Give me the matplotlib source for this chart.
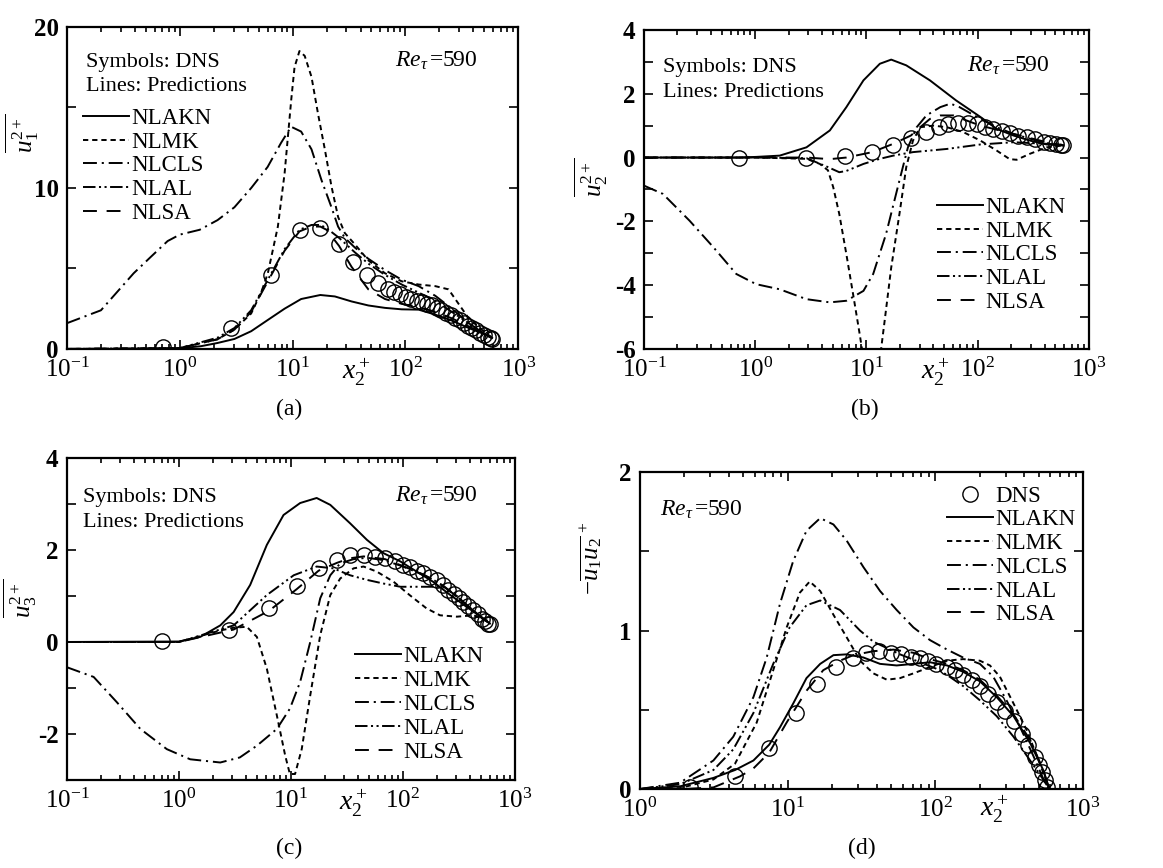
import matplotlib
matplotlib.use('Agg')
import matplotlib.pyplot as plt
from matplotlib.ticker import LogLocator, MultipleLocator, NullFormatter
import numpy as np

plt.rcParams['font.family'] = ['Liberation Serif', 'DejaVu Serif']
plt.rcParams['mathtext.fontset'] = 'custom'
plt.rcParams['mathtext.rm'] = 'Liberation Serif'
plt.rcParams['mathtext.it'] = 'Liberation Serif:italic'
plt.rcParams['mathtext.bf'] = 'Liberation Serif:bold'
plt.rcParams['lines.scale_dashes'] = False
plt.rcParams['axes.unicode_minus'] = False

models = ['NLAKN', 'NLMK', 'NLCLS', 'NLAL', 'NLSA']

# ---------------- panel (a): u1^2+ ----------------
a_dns_x = [0.71, 2.85, 6.37, 11.7, 17.6, 25.8, 34.4, 45.9, 56.8, 70.6, 80, 90, 101, 113, 126, 140, 155,
           171, 189, 208, 229, 252, 276, 302, 330, 360, 392, 425, 460, 497, 535, 570, 590]
a_dns_y = [0.1, 1.3, 4.6, 7.4, 7.5, 6.5, 5.4, 4.6, 4.1, 3.7, 3.55, 3.4, 3.25, 3.1, 3.0, 2.9, 2.8,
           2.7, 2.55, 2.4, 2.25, 2.1, 1.95, 1.8, 1.6, 1.45, 1.3, 1.15, 1.0, 0.85, 0.75, 0.65, 0.6]
a_nlakn_x = [0.1, 0.5, 1.0, 1.54, 2.16, 3.05, 4.29, 6.03, 8.49, 11.9, 17.6, 23.7, 33.3, 46.9, 65.9,
             92.7, 131, 184, 258, 364, 512, 587]
a_nlakn_y = [0.0, 0.01, 0.04, 0.17, 0.37, 0.62, 1.1, 1.8, 2.5, 3.1, 3.35, 3.26, 2.95, 2.7, 2.55,
             2.46, 2.44, 2.13, 1.76, 1.3, 0.89, 0.68]
a_nlmk_x = [0.1, 1.0, 2.16, 3.05, 4.29, 5.26, 6.03, 7.4, 8.49, 9.73, 10.4, 11.5, 12.8, 14.7, 16.8,
            19.3, 22.1, 25.3, 29.0, 35.6, 46.9, 65.9, 92.7, 131, 184, 241, 296, 364, 512, 587]
a_nlmk_y = [0.0, 0.05, 0.6, 1.2, 2.2, 3.5, 4.7, 7.6, 10.9, 15.5, 17.5, 18.5, 18.2, 16.9, 14.6,
            12.4, 10.1, 8.2, 7.2, 6.5, 5.5, 4.7, 4.2, 4.0, 3.9, 3.7, 2.8, 1.9, 1.0, 0.7]
a_nlcls_x = [0.1, 0.2, 0.39, 0.55, 0.78, 1.0, 1.5, 2.16, 3.05, 4.3, 6.0, 7.9, 9.7, 11.9, 14.7, 18.0,
             22.1, 25.3, 29.0, 35.6, 46.9, 65.9, 92.7, 131, 184, 258, 364, 512, 587]
a_nlcls_y = [1.6, 2.4, 4.7, 5.7, 6.7, 7.1, 7.4, 8.0, 8.8, 10.0, 11.3, 12.8, 13.8, 13.5, 12.4, 10.5,
             8.8, 7.6, 6.9, 6.3, 5.6, 4.9, 4.3, 3.9, 3.3, 2.5, 1.6, 0.9, 0.7]
a_nlal_x = [0.1, 1.0, 2.16, 3.05, 4.29, 6.37, 8.49, 11.5, 14.7, 17.6, 20.0, 25.8, 35.6, 46.9, 65.9,
            92.7, 131, 184, 258, 364, 512, 587]
a_nlal_y = [0.0, 0.05, 0.7, 1.3, 2.4, 4.6, 6.2, 7.4, 7.7, 7.7, 7.5, 6.9, 6.0, 5.3, 4.6,
            4.0, 3.5, 3.0, 2.3, 1.6, 0.9, 0.7]
a_nlsa_x = [0.1, 1.0, 2.16, 3.05, 4.29, 6.37, 8.49, 11.5, 14.7, 17.6, 20.0, 25.8, 33.3, 46.9, 65.9,
            92.7, 131, 184, 258, 364, 512, 587]
a_nlsa_y = [0.0, 0.05, 0.6, 1.2, 2.3, 4.5, 6.1, 7.3, 7.6, 7.6, 7.4, 6.4, 5.1, 3.7, 3.1,
            2.8, 2.6, 2.3, 1.9, 1.4, 0.9, 0.65]

# ---------------- panel (b): u2^2+ ----------------
b_dns_x = [0.71, 2.89, 6.4, 11.3, 17.4, 25.1, 34.6, 44.5, 54, 67, 82, 98, 116, 138, 164, 194, 231,
           276, 329, 392, 450, 510, 560, 590]
b_dns_y = [0.0, 0.0, 0.05, 0.17, 0.38, 0.6, 0.8, 0.95, 1.04, 1.08, 1.08, 1.04, 0.97, 0.9, 0.83, 0.76,
           0.69, 0.64, 0.57, 0.5, 0.45, 0.41, 0.39, 0.38]
b_nlakn_x = [0.1, 0.71, 1.02, 1.66, 2.89, 4.69, 6.6, 9.4, 13.2, 16.7, 22.8, 37.2, 64, 106, 148, 210,
             296, 418, 590]
b_nlakn_y = [0.0, 0.0, 0.02, 0.06, 0.32, 0.85, 1.58, 2.42, 2.94, 3.07, 2.89, 2.42, 1.79, 1.27, 0.9,
             0.69, 0.53, 0.41, 0.38]
b_nlmk_x = [0.1, 1.02, 2.89, 3.81, 4.51, 5.03, 5.7, 6.6, 7.6, 8.7, 9.6, 13.0, 14.6, 16.7, 19.8, 22.8,
            26.2, 30.4, 40, 53, 74, 106, 148, 194, 224, 296, 418, 590]
b_nlmk_y = [0.0, 0.0, -0.04, -0.2, -0.4, -0.93, -1.77, -3.03, -4.3, -5.54, -6.5, -6.5, -5.1, -3.45,
            -1.77, -0.3, 0.53, 0.95, 1.0, 0.95, 0.8, 0.53, 0.22, -0.05, -0.07, 0.12, 0.32, 0.38]
b_nlcls_x = [0.1, 0.148, 0.257, 0.418, 0.676, 1.02, 1.66, 2.89, 4.69, 6.6, 9.4, 11.5, 15.0, 19.8,
             23.6, 28.3, 34.6, 46.1, 56.9, 68.7, 106, 148, 210, 296, 418, 590]
b_nlcls_y = [-0.88, -1.14, -1.98, -2.8, -3.65, -3.97, -4.13, -4.44, -4.54, -4.49, -4.18, -3.65, -2.4,
             -0.72, 0.32, 0.95, 1.32, 1.58, 1.69, 1.58, 1.21, 0.95, 0.74, 0.59, 0.45, 0.38]
b_nlal_x = [0.1, 1.02, 2.89, 4.51, 5.7, 6.6, 9.4, 13.2, 17.4, 26.2, 53, 106, 210, 418, 590]
b_nlal_y = [0.0, 0.0, -0.02, -0.3, -0.46, -0.42, -0.2, -0.04, 0.06, 0.17, 0.27, 0.41, 0.48, 0.43, 0.4]
b_nlsa_x = [0.1, 1.02, 2.89, 4.69, 6.6, 11.3, 17.4, 25.1, 30.4, 37.2, 46.1, 60.5, 79.6, 106, 210,
            418, 590]
b_nlsa_y = [0.0, 0.0, 0.0, -0.05, 0.0, 0.17, 0.43, 0.69, 0.95, 1.21, 1.32, 1.32, 1.16, 1.0, 0.74,
            0.48, 0.38]

# ---------------- panel (c): u3^2+ ----------------
c_dns_x = [0.71, 2.79, 6.4, 11.3, 17.7, 25.8, 33.8, 44.6, 56.5, 69.5, 85.6, 100, 115, 133, 152, 175,
           200, 228, 255, 284, 315, 348, 385, 428, 465, 507, 545, 580, 600]
c_dns_y = [0.02, 0.27, 0.74, 1.22, 1.61, 1.78, 1.89, 1.88, 1.85, 1.82, 1.75, 1.67, 1.62, 1.55, 1.49,
           1.42, 1.34, 1.24, 1.14, 1.05, 0.96, 0.87, 0.78, 0.69, 0.6, 0.51, 0.45, 0.4, 0.38]
c_nlakn_x = [0.1, 1.0, 1.55, 2.34, 3.08, 4.33, 6.1, 8.6, 12.1, 17.0, 22.5, 33.8, 47.8, 67.2, 95.2,
             133, 186, 266, 373, 525, 600]
c_nlakn_y = [0.0, 0.01, 0.11, 0.36, 0.65, 1.24, 2.11, 2.76, 3.02, 3.13, 2.98, 2.58, 2.22, 1.93, 1.75,
             1.53, 1.31, 1.02, 0.76, 0.51, 0.4]
c_nlmk_x = [0.1, 1.0, 2.34, 3.08, 4.04, 4.97, 6.1, 7.5, 8.9, 9.8, 10.9, 12.5, 14.9, 18.3, 22.5, 27.6,
            36.3, 44.6, 58.5, 82.7, 115, 163, 215, 304, 428, 600]
c_nlmk_y = [0.0, 0.0, 0.25, 0.31, 0.33, 0.11, -0.58, -1.6, -2.47, -2.87, -2.87, -2.33, -1.16, 0.15,
            1.02, 1.38, 1.6, 1.64, 1.53, 1.31, 1.02, 0.73, 0.58, 0.55, 0.58, 0.44]
c_nlcls_x = [0.1, 0.173, 0.279, 0.452, 0.78, 1.26, 2.34, 3.5, 5.0, 7.5, 9.8, 12.1, 14.9, 18.3, 22.5,
             27.6, 36.3, 47.8, 67.2, 95.2, 133, 186, 266, 373, 525, 600]
c_nlcls_y = [-0.55, -0.76, -1.31, -1.89, -2.33, -2.55, -2.62, -2.51, -2.25, -1.89, -1.45, -0.87, 0.0,
             0.95, 1.45, 1.71, 1.8, 1.83, 1.78, 1.66, 1.52, 1.36, 1.1, 0.8, 0.5, 0.4]
c_nlal_x = [0.1, 1.0, 3.08, 6.1, 10.6, 17.0, 24.0, 33.8, 47.8, 67.2, 95.2, 133, 228, 304, 373, 525, 600]
c_nlal_y = [0.0, 0.0, 0.36, 1.02, 1.45, 1.64, 1.6, 1.45, 1.35, 1.27, 1.2, 1.2, 1.2, 1.0, 0.8, 0.5, 0.42]
c_nlsa_x = [0.1, 1.0, 3.08, 6.4, 11.3, 17.7, 25.8, 33.8, 44.6, 69.5, 100, 152, 228, 348, 507, 600]
c_nlsa_y = [0.0, 0.0, 0.27, 0.68, 1.15, 1.55, 1.72, 1.82, 1.86, 1.8, 1.65, 1.47, 1.23, 0.87, 0.52, 0.4]

# ---------------- panel (d): -u1u2+ ----------------
d_dns_x = [2.18, 4.4, 7.5, 11.3, 15.9, 21.1, 27.5, 33.9, 41.8, 49.9, 58.5, 68, 78.7, 89.5, 101, 120,
           135, 154, 176, 200, 228, 260, 295, 338, 385, 425, 470, 500, 524, 548, 568]
d_dns_y = [0.01, 0.08, 0.26, 0.48, 0.66, 0.77, 0.825, 0.86, 0.87, 0.86, 0.85, 0.835, 0.83, 0.81, 0.79,
           0.77, 0.75, 0.72, 0.69, 0.65, 0.6, 0.55, 0.49, 0.43, 0.35, 0.28, 0.2, 0.15, 0.11, 0.06, 0.01]
d_nlakn_x = [1.0, 1.87, 3.14, 4.4, 5.86, 7.5, 8.87, 10.9, 13.4, 16.6, 20.4, 25.0, 32.6, 42.2, 54.7,
             71.0, 91.9, 120, 154, 200, 260, 338, 438, 537, 590]
d_nlakn_y = [0.0, 0.017, 0.07, 0.12, 0.18, 0.28, 0.39, 0.54, 0.7, 0.79, 0.845, 0.85, 0.83, 0.79, 0.78,
             0.79, 0.8, 0.78, 0.74, 0.68, 0.58, 0.46, 0.29, 0.12, 0.0]
d_nlmk_x = [1.0, 1.87, 3.14, 4.4, 6.17, 7.98, 9.84, 12.1, 14.1, 16.6, 20.4, 25.0, 30.9, 38.0, 46.9,
            57.6, 71.0, 91.9, 120, 154, 200, 234, 273, 338, 416, 510, 590]
d_nlmk_y = [0.0, 0.006, 0.06, 0.16, 0.42, 0.75, 1.02, 1.24, 1.31, 1.25, 1.1, 0.96, 0.81, 0.73, 0.69,
            0.7, 0.73, 0.77, 0.81, 0.82, 0.81, 0.78, 0.71, 0.54, 0.37, 0.16, 0.0]
d_nlcls_x = [1.0, 1.87, 3.14, 4.28, 5.86, 7.21, 8.87, 10.9, 13.4, 16.6, 20.4, 25.0, 32.6, 42.2, 54.7,
             71.0, 91.9, 120, 154, 200, 246, 303, 375, 460, 552, 590]
d_nlcls_y = [0.0, 0.04, 0.18, 0.33, 0.58, 0.83, 1.17, 1.44, 1.63, 1.71, 1.67, 1.57, 1.4, 1.25, 1.13,
             1.02, 0.94, 0.88, 0.83, 0.79, 0.71, 0.56, 0.39, 0.21, 0.04, 0.0]
d_nlal_x = [1.0, 1.87, 3.14, 4.28, 5.86, 7.98, 10.3, 13.4, 16.6, 22.6, 30.9, 38.0, 46.9, 57.6, 78.7,
            101, 120, 154, 200, 260, 338, 438, 537, 590]
d_nlal_y = [0.0, 0.03, 0.12, 0.25, 0.48, 0.79, 1.02, 1.16, 1.19, 1.13, 1.0, 0.93, 0.89, 0.85, 0.8,
            0.76, 0.72, 0.65, 0.56, 0.46, 0.33, 0.18, 0.06, 0.0]
d_nlsa_x = [1.0, 2.0, 3.14, 4.76, 5.86, 7.5, 9.84, 13.4, 17.4, 22.6, 27.8, 38.0, 52.0, 71.0, 91.9,
            120, 154, 200, 260, 338, 438, 537, 590]
d_nlsa_y = [0.0, 0.0, 0.01, 0.08, 0.13, 0.23, 0.42, 0.62, 0.75, 0.81, 0.845, 0.87, 0.88, 0.86, 0.82,
            0.79, 0.75, 0.69, 0.59, 0.47, 0.31, 0.12, 0.0]

line_styles = {
    'NLAKN': '-',
    'NLMK': (0, (3.8, 2.8)),
    'NLCLS': (0, (10, 3.5, 1.5, 3.5)),
    'NLAL': (0, (9, 2.5, 1.5, 2.5, 1.5, 2.5)),
    'NLSA': (0, (10, 7)),
}

LW = 1.4
FS_LEG = 16.5
FS_TXT = 16
RE_TEXT = r'$Re_\tau\,$=590'


def setup_axes(ax, xdec, ylim, yticks, ymin_step, ylabel, ylab_xy):
    ax.set_xscale('log')
    ax.set_xlim(10.0 ** xdec[0], 10.0 ** xdec[-1])
    ax.set_ylim(*ylim)
    ax.set_xticks([10.0 ** d for d in xdec],
                  labels=[r'$10^{%d}$' % d for d in xdec], fontsize=18)
    ax.xaxis.set_minor_locator(LogLocator(base=10, subs=np.arange(2, 10), numticks=20))
    ax.xaxis.set_minor_formatter(NullFormatter())
    ax.set_yticks(yticks, labels=['%g' % v for v in yticks], fontsize=18, fontweight='bold')
    ax.yaxis.set_minor_locator(MultipleLocator(ymin_step))
    ax.tick_params(which='both', direction='in', top=True, right=True, width=1.2)
    ax.tick_params(axis='x', which='major', length=6.5, pad=6)
    ax.tick_params(axis='x', which='minor', length=3.5)
    ax.tick_params(axis='y', which='both', length=6.5, pad=6)
    for s in ax.spines.values():
        s.set_linewidth(1.6)
    ax.set_ylabel(ylabel, fontsize=18)
    ax.yaxis.set_label_coords(*ylab_xy)


def draw_curves(ax, curves, dns_x, dns_y):
    handles = []
    for name, (x, y) in zip(models, curves):
        h, = ax.plot(x, y, color='k', lw=LW, linestyle=line_styles[name], label=name)
        handles.append(h)
    d, = ax.plot(dns_x, dns_y, 'o', ms=11, mfc='none', mec='k', mew=1.0, label='DNS', zorder=5)
    return handles, d


def add_legend(ax, handles, anchor):
    ax.legend(handles=handles, loc='upper left', bbox_to_anchor=anchor, frameon=False,
              fontsize=FS_LEG, handlelength=2.0, handletextpad=0.1, labelspacing=0.12,
              borderpad=0, borderaxespad=0)


def add_notes(ax, x, y1, y2):
    ax.text(x, y1, 'Symbols: DNS', transform=ax.transAxes, fontsize=FS_TXT, va='baseline')
    ax.text(x, y2, 'Lines: Predictions', transform=ax.transAxes, fontsize=FS_TXT, va='baseline')


fig = plt.figure(figsize=(11.63, 8.68), dpi=100)
ax_a = fig.add_axes([0.0576, 0.598, 0.388, 0.371])
ax_b = fig.add_axes([0.5537, 0.598, 0.3826, 0.3675])
ax_c = fig.add_axes([0.0576, 0.1014, 0.385, 0.371])
ax_d = fig.add_axes([0.5503, 0.091, 0.381, 0.365])

# (a)
h, d = draw_curves(ax_a, [(a_nlakn_x, a_nlakn_y), (a_nlmk_x, a_nlmk_y), (a_nlcls_x, a_nlcls_y),
                          (a_nlal_x, a_nlal_y), (a_nlsa_x, a_nlsa_y)], a_dns_x, a_dns_y)
setup_axes(ax_a, [-1, 0, 1, 2, 3], (0, 20), [0, 10, 20], 5, r'$\overline{u_1^{2+}}$', (-0.058, 0.67))
add_legend(ax_a, h, (0.035, 0.749))
add_notes(ax_a, 0.042, 0.876, 0.80)
ax_a.text(0.727, 0.876, RE_TEXT, transform=ax_a.transAxes, fontsize=17, va='baseline')
ax_a.text(0.672, -0.096, r'$x_2^+$', transform=ax_a.transAxes, fontsize=20, ha='right', va='baseline')

# (b)
h, d = draw_curves(ax_b, [(b_nlakn_x, b_nlakn_y), (b_nlmk_x, b_nlmk_y), (b_nlcls_x, b_nlcls_y),
                          (b_nlal_x, b_nlal_y), (b_nlsa_x, b_nlsa_y)], b_dns_x, b_dns_y)
setup_axes(ax_b, [-1, 0, 1, 2, 3], (-6, 4), [-6, -4, -2, 0, 2, 4], 1, r'$\overline{u_2^{2+}}$',
           (-0.076, 0.54))
add_legend(ax_b, h, (0.658, 0.477))
add_notes(ax_b, 0.043, 0.868, 0.79)
ax_b.text(0.726, 0.868, RE_TEXT, transform=ax_b.transAxes, fontsize=17, va='baseline')
ax_b.text(0.688, -0.096, r'$x_2^+$', transform=ax_b.transAxes, fontsize=20, ha='right', va='baseline')

# (c)
h, d = draw_curves(ax_c, [(c_nlakn_x, c_nlakn_y), (c_nlmk_x, c_nlmk_y), (c_nlcls_x, c_nlcls_y),
                          (c_nlal_x, c_nlal_y), (c_nlsa_x, c_nlsa_y)], c_dns_x, c_dns_y)
setup_axes(ax_c, [-1, 0, 1, 2, 3], (-3, 4), [-2, 0, 2, 4], 1, r'$\overline{u_3^{2+}}$',
           (-0.062, 0.565))
add_legend(ax_c, h, (0.643, 0.415))
add_notes(ax_c, 0.036, 0.863, 0.786)
ax_c.text(0.732, 0.863, RE_TEXT, transform=ax_c.transAxes, fontsize=17, va='baseline')
ax_c.text(0.672, -0.096, r'$x_2^+$', transform=ax_c.transAxes, fontsize=20, ha='right', va='baseline')

# (d)
h, d = draw_curves(ax_d, [(d_nlakn_x, d_nlakn_y), (d_nlmk_x, d_nlmk_y), (d_nlcls_x, d_nlcls_y),
                          (d_nlal_x, d_nlal_y), (d_nlsa_x, d_nlsa_y)], d_dns_x, d_dns_y)
setup_axes(ax_d, [0, 1, 2, 3], (0, 2), [0, 1, 2], 0.5, r'$-\overline{u_1u_2}^{\,+}$', (-0.08, 0.73))
add_legend(ax_d, [d] + h, (0.693, 0.958))
ax_d.text(0.045, 0.864, RE_TEXT, transform=ax_d.transAxes, fontsize=17, va='baseline')
ax_d.text(0.8, -0.088, r'$x_2^+$', transform=ax_d.transAxes, fontsize=20, ha='center', va='baseline')

# captions
fig.text(0.249, 0.528, '(a)', fontsize=17, ha='center', va='center')
fig.text(0.744, 0.528, '(b)', fontsize=17, ha='center', va='center')
fig.text(0.249, 0.023, '(c)', fontsize=17, ha='center', va='center')
fig.text(0.741, 0.023, '(d)', fontsize=17, ha='center', va='center')

fig.savefig('out.png', dpi=100)
